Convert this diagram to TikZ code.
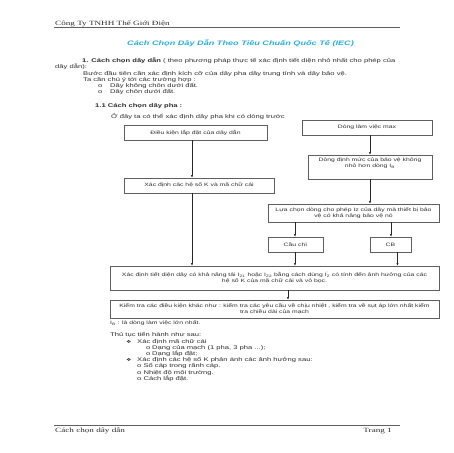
\documentclass[tikz,border=0pt]{standalone}
\usepackage{fontspec}
\setmainfont{Liberation Sans}[FakeStretch=1.414]
\newfontfamily\seriffam{Liberation Serif}[FakeStretch=1.414]
\newfontfamily\dingfam{DejaVu Sans}[FakeStretch=1.414]
\usetikzlibrary{arrows.meta}
\definecolor{titlecol}{RGB}{40,175,225}
\definecolor{txtcol}{RGB}{45,45,45}
\definecolor{linecol}{RGB}{95,95,95}
\tikzset{
  bodytxt/.style={anchor=base west, inner sep=0pt, font=\fontsize{5.38}{6.2}\selectfont, text=txtcol},
  smalltxt/.style={anchor=base west, inner sep=0pt, font=\fontsize{4.84}{5.6}\selectfont, text=txtcol},
  sertxt/.style={inner sep=0pt, font=\seriffam\fontsize{6.46}{7}\selectfont, text=txtcol},
  box/.style={draw=linecol, line width=0.55pt, inner sep=0pt, align=center, font=\fontsize{4.84}{5.9}\selectfont, text=txtcol},
  boxlbl/.style={inner sep=0pt, align=center, font=\fontsize{4.84}{5.9}\selectfont, text=txtcol},
  arr/.style={draw=black!85, line width=0.55pt, -{Latex[length=2.6pt,width=2.2pt]}},
  rulel/.style={draw=linecol, line width=0.8pt},
}
\begin{document}
\begin{tikzpicture}[x=1pt,y=-1pt]
\useasboundingbox (0,0) rectangle (453,453);
% header
\node[sertxt, anchor=base west] (hdr) at (55,25.3) {Công Ty TNHH Thế Giới Điện};
\coordinate (hl) at (54,27.2); \coordinate (hr) at (400,27.2);
\draw[rulel] (hl) -- (hr);
\node[inner sep=0pt, anchor=base, font=\fontsize{6.46}{7}\selectfont\bfseries\itshape, text=titlecol] (title) at (240.5,45.3) {Cách Chọn Dây Dẫn Theo Tiêu Chuẩn Quốc Tế (IEC)};
% intro text
\node[bodytxt] (l1) at (82,62.7) {{\bfseries 1. Cách chọn dây dẫn} ( theo phương pháp thực tế xác định tiết diện nhỏ nhất cho phép của};
\node[bodytxt] (l2) at (55,68.9) {dây dẫn):};
\node[bodytxt] (l3) at (83,75.1) {Bước đầu tiên cần xác định kích cỡ của dây pha dây trung tính và dây bảo vệ.};
\node[bodytxt] (l4) at (83,81.3) {Ta cần chú ý tới các trường hợp :};
\node[bodytxt] (b5) at (98,87.5) {o};
\node[bodytxt] (l5) at (110,87.5) {Dây không chôn dưới đất.};
\node[bodytxt] (b6) at (98,93.7) {o};
\node[bodytxt] (l6) at (110,93.7) {Dây chôn dưới đất.};
\node[bodytxt, font=\fontsize{5.38}{6.2}\selectfont\bfseries] (l7) at (95,107.8) {1.1 Cách chọn dây pha :};
\node[bodytxt] (l8) at (111,118.8) {Ở đây ta có thể xác định dây pha khi có dòng trước};
% flowchart boxes
\node[box, minimum width=143, minimum height=15] (A) at (195.5,132.5) {Điều kiện lắp đặt  của dây dẫn};
\node[box, minimum width=130, minimum height=15] (B) at (367,127.5) {Dòng làm việc max};
\node[box, minimum width=124, minimum height=24] (C) at (370,167) {};
\node[boxlbl] (Ct) at (370,163) {Dòng định mức của bảo vệ không\\nhỏ hơn dòng I\textsubscript{B}};
\node[box, minimum width=150, minimum height=15] (D) at (199,185.5) {Xác định các hệ số K và mã  chữ cái};
\node[box, minimum width=171, minimum height=18] (E) at (353.5,213) {Lựa chọn dòng cho phép Iz của dây mà thiết bị bảo\\vệ có khả năng bảo vệ nó};
\node[box, minimum width=55, minimum height=15] (F) at (295.5,244.5) {Cầu chì};
\node[box, minimum width=41, minimum height=15] (G) at (390.5,244.5) {CB};
\node[box, minimum width=329, minimum height=24] (H) at (274.5,278) {Xác định tiết diện dây có khả năng tải I\textsubscript{Z1} hoặc I\textsubscript{Z2} bằng cách dùng I\rlap{\textsuperscript{'}}\textsubscript{Z}  có tính đến ảnh hưởng  của các\\hệ số K của mã chữ cái và vỏ bọc.};
\node[box, minimum width=329, minimum height=18] (I) at (274.5,309) {Kiểm tra các điều kiện khác như : kiểm tra các yêu cầu về chịu nhiệt , kiểm tra về sụt áp lớn nhất kiểm\\tra chiều dài của mạch};
% arrow columns
\coordinate (c192) at (192,0);
\coordinate (c370) at (370,0);
\coordinate (c295) at (295,0);
\coordinate (c391) at (391,0);
\coordinate (c398) at (397.5,0);
\coordinate (c288) at (288,0);
\draw[arr] (A.south -| c192) -- (D.north -| c192);
\draw[arr] (B.south -| c370) -- (C.north -| c370);
\draw[arr] (C.south -| c370) -- (E.north -| c370);
\draw[arr] (E.south -| c295) -- (F.north -| c295);
\draw[arr] (E.south -| c391) -- (G.north -| c391);
\draw[arr] (D.south -| c192) -- (H.north -| c192);
\draw[arr] (F.south -| c295) -- (H.north -| c295);
\draw[arr] (G.south -| c398) -- (H.north -| c398);
\draw[arr] (H.south -| c288) -- (I.north -| c288);
% lower text
\node[smalltxt] (l9) at (110,324) {I\textsubscript{B} : là dòng làm việc lớn nhất.};
\node[bodytxt] (l10) at (110,336.8) {Thủ tục tiến hành như sau:};
\node[bodytxt, font=\dingfam\fontsize{4.3}{6}\selectfont] (d11) at (126,343) {❖};
\node[bodytxt] (l11) at (137,343) {Xác định mã chữ cái};
\node[bodytxt] (b12) at (146,349.2) {o};
\node[bodytxt] (l12) at (152,349.2) {Dạng của mạch (1 pha, 3 pha ...);};
\node[bodytxt] (b13) at (146,355.4) {o};
\node[bodytxt] (l13) at (152,355.4) {Dạng lắp đặt;};
\node[bodytxt, font=\dingfam\fontsize{4.3}{6}\selectfont] (d14) at (126,361.6) {❖};
\node[bodytxt] (l14) at (137,361.6) {Xác định các hệ số  K phản ánh các ảnh hưởng sau:};
\node[bodytxt] (l15) at (137,367.8) {o Số cáp trong rãnh cáp.};
\node[bodytxt] (l16) at (137,374) {o Nhiệt độ môi trường.};
\node[bodytxt] (l17) at (137,380.2) {o Cách lắp đặt.};
% footer
\coordinate (fl) at (54,425); \coordinate (fr) at (400,425);
\draw[rulel] (fl) -- (fr);
\node[sertxt, anchor=base west] (ftl) at (55,432.3) {Cách chọn dây dẫn};
\node[sertxt, anchor=base east] (ftr) at (392,432.3) {Trang 1};
\end{tikzpicture}
\end{document}
